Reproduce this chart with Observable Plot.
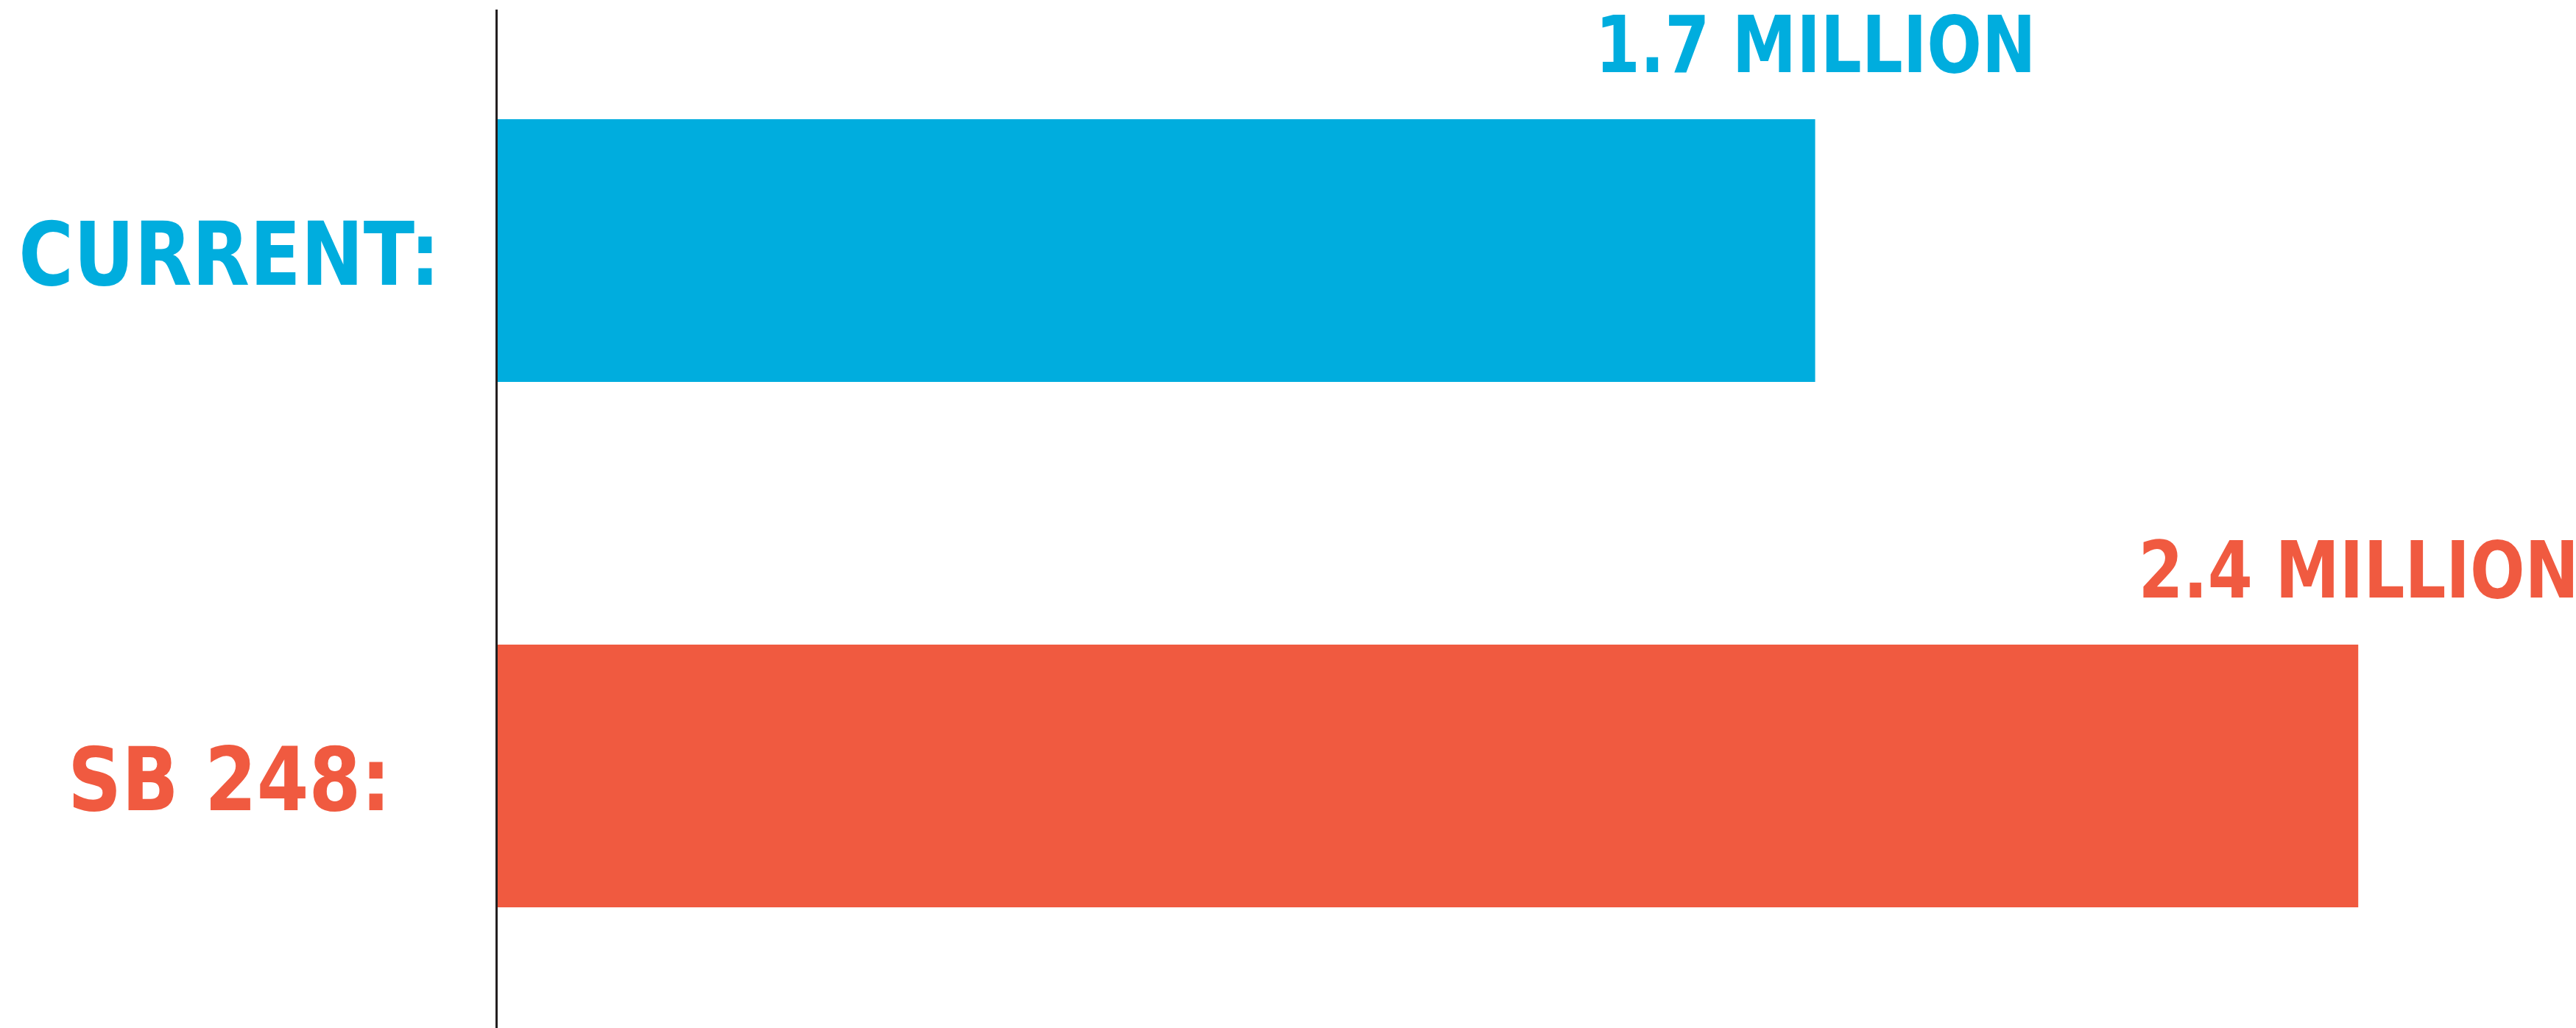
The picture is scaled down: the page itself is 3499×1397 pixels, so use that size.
<!DOCTYPE html>
<html>
<head>
<meta charset="utf-8">
<script src="https://cdn.jsdelivr.net/npm/d3@7"></script>
<script src="https://cdn.jsdelivr.net/npm/@observablehq/plot@0.6"></script>
<style>
  html, body { margin: 0; padding: 0; background: #ffffff; }
  #chart svg { display: block; }
</style>
</head>
<body>
<div id="chart"></div>
<script>
const categories = ["CURRENT:", "SB 248:"];
const values = [1.7, 2.4];
const valueLabels = ["1.7 MILLION", "2.4 MILLION"];
const colors = ["#00ADDE", "#F05A40"];

const data = categories.map((c, i) => ({category: c, value: values[i], label: valueLabels[i]}));

const font = "'DejaVu Sans Condensed', 'DejaVu Sans', sans-serif";

const chart = Plot.plot({
  width: 3499,
  height: 1397,
  marginLeft: 674,
  marginRight: 85,
  marginTop: 13,
  marginBottom: 0,
  style: {background: "#ffffff", fontFamily: font},
  x: {domain: [0, 2.6], axis: null},
  y: {domain: categories, range: [-195, 1590], padding: 0.5, axis: null},
  color: {domain: categories, range: colors},
  marks: [
    Plot.barX(data, {x: "value", y: "category", fill: "category"}),
    Plot.ruleX([0], {stroke: "#231f20", strokeWidth: 3}),
    Plot.text(data, {
      x: "value", y: "category", text: "label", fill: "category",
      textAnchor: "middle", lineAnchor: "bottom", dy: -243,
      fontSize: 107, fontWeight: "bold", fontFamily: font
    }),
    Plot.text(data, {
      y: "category", text: "category", fill: "category",
      frameAnchor: "left", dx: -363, dy: 8, textAnchor: "middle", lineAnchor: "middle",
      fontSize: 119, fontWeight: "bold", fontFamily: font
    })
  ]
});
document.getElementById("chart").appendChild(chart);

// condense text horizontally about its (centred) anchor: the original uses a narrower face
function condense(group, factor) {
  group.querySelectorAll("text").forEach(t => {
    const tr = t.getAttribute("transform") || "";
    t.setAttribute("transform", (tr + " scale(" + factor + ",1)").trim());
  });
}
const groups = chart.querySelectorAll('g[aria-label="text"]');
if (groups.length > 0) condense(groups[0], 0.912);
if (groups.length > 1) condense(groups[1], 0.95);
</script>
</body>
</html>
